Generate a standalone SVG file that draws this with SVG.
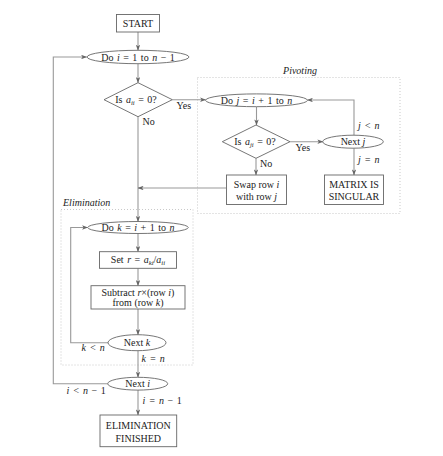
<svg xmlns="http://www.w3.org/2000/svg" width="443" height="456" viewBox="0 0 443 456">
<defs>
<marker id="arr" viewBox="0 0 8 6" refX="7.5" refY="3" markerWidth="6" markerHeight="4.5" orient="auto" markerUnits="userSpaceOnUse">
<path d="M0,0 L8,3 L0,6 L2,3 z" fill="#666"/>
</marker>
<style>
.sh{fill:#fff;stroke:#666;stroke-width:0.9}
.cn{fill:none;stroke:#999;stroke-width:1.1;marker-end:url(#arr)}
.grp{fill:none;stroke:#bbb;stroke-width:0.8;stroke-dasharray:1 2}
text{font-family:"Liberation Serif","DejaVu Serif",serif;font-size:10px;fill:#222}
.c{text-anchor:middle}
.i{font-style:italic}
.s{font-size:6.8px}
.m{word-spacing:1px}
</style>
</defs>
<rect width="443" height="456" fill="#fff"/>

<g id="groups">
<rect class="grp" x="197.5" y="77.5" width="202.5" height="136"/>
<text class="c i" x="300" y="74">Pivoting</text>
<rect class="grp" x="61" y="209.5" width="132" height="155.5"/>
<text class="i" x="63" y="206">Elimination</text>
</g>

<g id="connectors">
<path class="cn" d="M138,32 V50.3"/>
<path class="cn" d="M138,63.7 V82.7"/>
<path class="cn" d="M138,116.7 V221.5"/>
<path class="cn" d="M172.3,99.7 H205.7"/>
<path class="cn" d="M256.5,106.7 V125"/>
<path class="cn" d="M290,141.7 H323"/>
<path class="cn" d="M256,158.3 V175"/>
<path class="cn" d="M354,135 V100 H307.3"/>
<path class="cn" d="M354,148.3 V175"/>
<path class="cn" d="M226,188 H138"/>
<path class="cn" d="M138,233.3 V251.7"/>
<path class="cn" d="M138,268.3 V285.7"/>
<path class="cn" d="M138,309 V334.7"/>
<path class="cn" d="M109,342.7 H70.7 V227.5 H87.7"/>
<path class="cn" d="M138,350.7 V377.3"/>
<path class="cn" d="M107.7,383.7 H53.3 V57 H86.7"/>
<path class="cn" d="M138,390 V415"/>
</g>

<g id="start">
<rect class="sh" x="116.5" y="14.5" width="43" height="17.5"/>
<text class="c" x="138" y="26.7">START</text>
</g>

<g id="do-i">
<ellipse class="sh" cx="138" cy="57" rx="51" ry="6.7"/>
<text class="c m" x="138" y="60.5">Do <tspan class="i">i</tspan> = 1 to <tspan class="i">n</tspan> − 1</text>
</g>

<g id="is-aii">
<polygon class="sh" points="138,82.7 172.3,99.7 138,116.7 104,99.7"/>
<text class="c m" x="136" y="103.2">Is <tspan class="i">a</tspan><tspan class="i s" dy="2">ii</tspan><tspan dy="-2"> = 0?</tspan></text>
<text x="176.5" y="108.5">Yes</text>
<text x="142.5" y="125">No</text>
</g>

<g id="do-j">
<ellipse class="sh" cx="256.5" cy="100.3" rx="51" ry="6.4"/>
<text class="c m" x="256.5" y="103.8">Do <tspan class="i">j</tspan> = <tspan class="i">i</tspan> + 1 to <tspan class="i">n</tspan></text>
</g>

<g id="is-aji">
<polygon class="sh" points="256,125 290,141.7 256,158.3 222.3,141.7"/>
<text class="c m" x="255" y="145.2">Is <tspan class="i">a</tspan><tspan class="i s" dy="2">ji</tspan><tspan dy="-2"> = 0?</tspan></text>
<text x="295.5" y="151">Yes</text>
<text x="260" y="167">No</text>
</g>

<g id="next-j">
<ellipse class="sh" cx="353" cy="141.7" rx="30.3" ry="6.5"/>
<text class="c" x="353" y="145.2">Next <tspan class="i">j</tspan></text>
<text class="i m" x="358" y="129">j &lt; n</text>
<text class="i m" x="358" y="162.5">j = n</text>
</g>

<g id="swap">
<rect class="sh" x="226.5" y="175" width="60" height="29.5"/>
<text class="c" x="256.5" y="188">Swap row <tspan class="i">i</tspan></text>
<text class="c" x="256.5" y="199.5">with row <tspan class="i">j</tspan></text>
</g>

<g id="singular">
<rect class="sh" x="324.5" y="175" width="59" height="29.5"/>
<text class="c" x="354" y="188">MATRIX IS</text>
<text class="c" x="354" y="199.5">SINGULAR</text>
</g>

<g id="do-k">
<ellipse class="sh" cx="138" cy="227.5" rx="50.3" ry="6"/>
<text class="c m" x="138" y="231">Do <tspan class="i">k</tspan> = <tspan class="i">i</tspan> + 1 to <tspan class="i">n</tspan></text>
</g>

<g id="set-r">
<rect class="sh" x="99.5" y="251.7" width="77" height="16.6"/>
<text class="c m" x="138" y="263.2">Set <tspan class="i">r</tspan> = <tspan class="i">a</tspan><tspan class="i s" dy="2">ki</tspan><tspan dy="-2">/</tspan><tspan class="i">a</tspan><tspan class="i s" dy="2">ii</tspan></text>
</g>

<g id="subtract">
<rect class="sh" x="91" y="285.7" width="94" height="23.3"/>
<text class="c" x="138" y="295.5">Subtract <tspan class="i">r</tspan>×(row <tspan class="i">i</tspan>)</text>
<text class="c" x="138" y="305.5">from (row <tspan class="i">k</tspan>)</text>
</g>

<g id="next-k">
<ellipse class="sh" cx="137" cy="342.7" rx="29" ry="8"/>
<text class="c" x="137" y="346.2">Next <tspan class="i">k</tspan></text>
<text class="i m" x="81.5" y="350.5">k &lt; n</text>
<text class="i m" x="141.5" y="362">k = n</text>
</g>

<g id="next-i">
<ellipse class="sh" cx="137.7" cy="383.7" rx="30" ry="6.4"/>
<text class="c" x="137.7" y="387.2">Next <tspan class="i">i</tspan></text>
<text class="i m" x="66.5" y="393.5">i &lt; n<tspan font-style="normal"> − 1</tspan></text>
<text class="i m" x="142.5" y="404">i = n<tspan font-style="normal"> − 1</tspan></text>
</g>

<g id="finished">
<rect class="sh" x="100" y="415" width="76.7" height="31.7"/>
<text class="c" x="138.3" y="428.5">ELIMINATION</text>
<text class="c" x="138.3" y="441.5">FINISHED</text>
</g>
</svg>
